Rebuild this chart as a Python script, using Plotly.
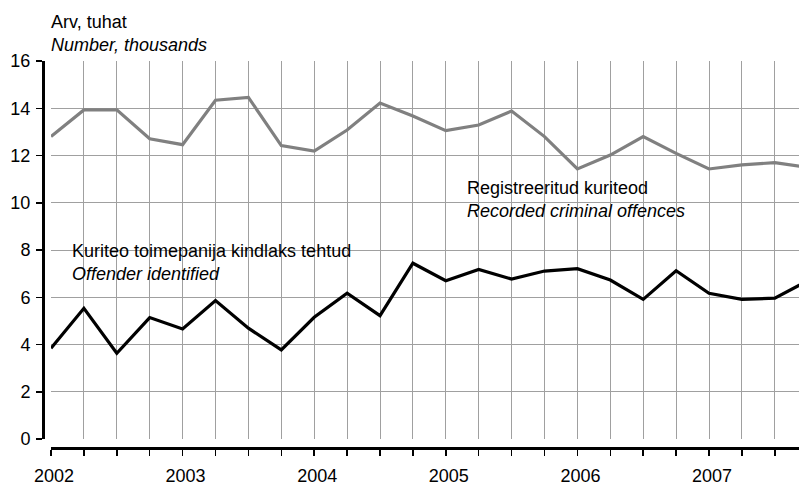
import plotly.graph_objects as go

# Quarterly periods 2002 Q1 .. 2007 Q4 (as fractional years)
periods = [2002.00, 2002.25, 2002.50, 2002.75,
           2003.00, 2003.25, 2003.50, 2003.75,
           2004.00, 2004.25, 2004.50, 2004.75,
           2005.00, 2005.25, 2005.50, 2005.75,
           2006.00, 2006.25, 2006.50, 2006.75,
           2007.00, 2007.25, 2007.50, 2007.75]

recorded = [12.80, 13.93, 13.93, 12.71, 12.46, 14.34, 14.46, 12.42,
            12.19, 13.08, 14.22, 13.67, 13.05, 13.29, 13.88, 12.80,
            11.43, 12.02, 12.80, 12.09, 11.43, 11.60, 11.70, 11.50]

identified = [3.84, 5.53, 3.63, 5.14, 4.66, 5.86, 4.69, 3.77,
              5.15, 6.17, 5.22, 7.44, 6.70, 7.18, 6.77, 7.11,
              7.21, 6.73, 5.91, 7.12, 6.17, 5.91, 5.96, 6.70]

year_labels = ["2002", "2003", "2004", "2005", "2006", "2007"]
y_ticks = [0, 2, 4, 6, 8, 10, 12, 14, 16]

FONT = "Liberation Sans, Arial, sans-serif"
W, H = 799, 485
L, R, T, B = 43, 0, 61, 37
PW, PH = W - L - R, H - T - B


def px_x(px):
    return (px - L) / PW


def px_y(py):
    return (H - B - py) / PH


tick_text = []
yi = 0
for p in periods:
    if p == int(p):
        tick_text.append(year_labels[yi])
        yi += 1
    else:
        tick_text.append("")

fig = go.Figure()
fig.add_trace(go.Scatter(x=periods, y=recorded, mode="lines",
                         line=dict(color="#808080", width=3.2),
                         showlegend=False, hoverinfo="skip"))
fig.add_trace(go.Scatter(x=periods, y=identified, mode="lines",
                         line=dict(color="#000000", width=3.2),
                         showlegend=False, hoverinfo="skip"))

# white label boxes (hide gridlines behind the labels)
fig.add_shape(type="rect", xref="paper", yref="paper", layer="below",
              x0=px_x(61.7), x1=px_x(390), y0=px_y(286.7), y1=px_y(236.7),
              fillcolor="white", line=dict(width=0))
fig.add_shape(type="rect", xref="paper", yref="paper", layer="below",
              x0=px_x(456.7), x1=px_x(710.7), y0=px_y(229), y1=px_y(173.3),
              fillcolor="white", line=dict(width=0))

fig.add_annotation(xref="paper", yref="paper", x=px_x(70), y=px_y(262),
                   xanchor="left", yanchor="middle", align="left", showarrow=False,
                   text="Kuriteo toimepanija kindlaks tehtud<br><i>Offender identified</i>",
                   font=dict(family=FONT, size=18, color="black"))
fig.add_annotation(xref="paper", yref="paper", x=px_x(465.3), y=px_y(199),
                   xanchor="left", yanchor="middle", align="left", showarrow=False,
                   text="Registreeritud kuriteod<br><i>Recorded criminal offences</i>",
                   font=dict(family=FONT, size=18, color="black"))
fig.add_annotation(xref="paper", yref="paper", x=px_x(49.3), y=px_y(33.8),
                   xanchor="left", yanchor="middle", align="left", showarrow=False,
                   text="Arv, tuhat<br><i>Number, thousands</i>",
                   font=dict(family=FONT, size=18, color="black"))

x0 = 2002
x1 = 2002 + (W - 51) / 131.6

fig.update_layout(
    width=W, height=H,
    margin=dict(l=L, r=R, t=T, b=B, pad=0, autoexpand=False),
    paper_bgcolor="white", plot_bgcolor="white",
    font=dict(family=FONT, size=18, color="black"),
    xaxis=dict(domain=[(51 - L) / PW, 1], anchor="free", position=0,
               range=[x0, x1], tickmode="array", tickvals=periods, ticktext=tick_text,
               showgrid=True, gridcolor="#a0a0a0", gridwidth=1,
               showline=True, linecolor="black", linewidth=2.5,
               ticks="outside", ticklen=6, tickwidth=1.5, tickcolor="black",
               ticklabelshift=3, ticklabelstandoff=5, zeroline=False,
               automargin=False,
               tickfont=dict(family=FONT, size=18, color="black")),
    yaxis=dict(domain=[(H - B - 439) / PH, 1], anchor="free", position=0,
               range=[0, 16], tickmode="array", tickvals=y_ticks,
               showgrid=True, gridcolor="#a0a0a0", gridwidth=1,
               showline=True, linecolor="black", linewidth=2.5,
               ticks="outside", ticklen=6, tickwidth=1.5, tickcolor="black",
               ticklabelstandoff=2, zeroline=False, automargin=False,
               tickfont=dict(family=FONT, size=18, color="black")),
)

fig.write_html("out.html",
               config={"displayModeBar": False, "staticPlot": True},
               post_script="document.body.style.margin='0px';document.body.style.overflow='hidden';")
